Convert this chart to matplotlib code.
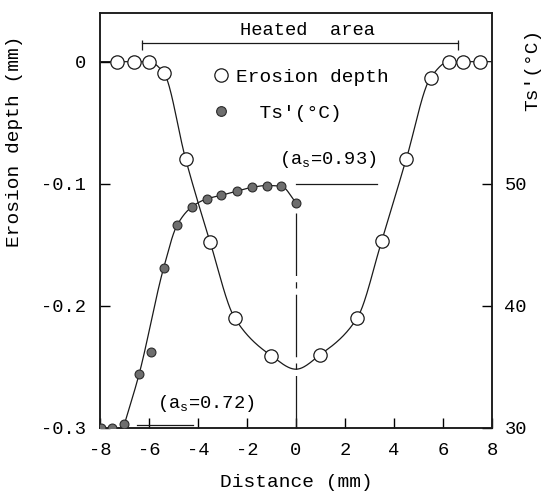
import numpy as np
import matplotlib
matplotlib.use("Agg")
import matplotlib.pyplot as plt
from matplotlib.lines import Line2D

plt.rcParams['font.family'] = ['Liberation Mono', 'DejaVu Sans Mono']
plt.rcParams['mathtext.default'] = 'regular'
plt.rcParams['axes.unicode_minus'] = False

# erosion depth profile (mm) across the specimen
depth_x = [-7.3, -6.6, -6.0, -5.4, -4.5, -3.5, -2.5, -1.0, 1.0, 2.5, 3.5, 4.5, 5.5, 6.25, 6.8, 7.5]
depth_y = [0, 0, 0, -0.009, -0.080, -0.148, -0.210, -0.241, -0.240, -0.210, -0.147, -0.080, -0.013, 0, 0, 0]

# faired curve through the profile (deepest point at the centre)
depth_curve_x = [-8.0, -7.3, -6.6, -6.0, -5.4, -4.5, -3.5, -2.5, -1.0, 0.0, 1.0, 2.5, 3.5, 4.5, 5.5, 6.25, 6.8, 7.5, 8.0]
depth_curve_y = [0, 0, 0, 0, -0.009, -0.080, -0.148, -0.210, -0.241, -0.252, -0.240, -0.210, -0.147, -0.080, -0.013, 0, 0, 0, 0]

# surface temperature Ts' (deg C)
temp_x = [-7.95, -7.5, -7.0, -6.4, -5.9, -5.4, -4.85, -4.25, -3.65, -3.05, -2.4, -1.8, -1.2, -0.6, 0.0]
temp_y = [30.0, 30.0, 30.3, 34.4, 36.2, 43.1, 46.6, 48.1, 48.75, 49.05, 49.4, 49.7, 49.85, 49.8, 48.45]

temp_curve_x = [-7.0, -6.4, -5.4, -4.85, -4.25, -3.65, -3.05, -2.4, -1.8, -1.2, -0.6, 0.0]
temp_curve_y = [30.3, 34.4, 43.1, 46.6, 48.1, 48.75, 49.05, 49.4, 49.7, 49.85, 49.8, 48.45]

x_ticks = [-8, -6, -4, -2, 0, 2, 4, 6, 8]
x_labels = ['-8', '-6', '-4', '-2', '0', '2', '4', '6', '8']
depth_ticks = [0, -0.1, -0.2, -0.3]
depth_labels = ['0', '-0.1', '-0.2', '-0.3']
temp_ticks = [30, 40, 50]
temp_labels = ['30', '40', '50']

heated_span = [-6.3, 6.6]
heated_level = 0.0153
as93_span = [0.0, 3.3]
as93_level = 50.0
as72_span = [-6.5, -4.2]
as72_level = 30.27
centre_line = [47.6, 30.0]


def pchip(x, y, xs):
    x = np.asarray(x, float)
    y = np.asarray(y, float)
    h = np.diff(x)
    d = np.diff(y) / h
    m = np.zeros_like(y)
    for k in range(1, len(x) - 1):
        if d[k - 1] * d[k] > 0:
            w1 = 2 * h[k] + h[k - 1]
            w2 = h[k] + 2 * h[k - 1]
            m[k] = (w1 + w2) / (w1 / d[k - 1] + w2 / d[k])
    m[0] = d[0]
    m[-1] = d[-1]
    i = np.clip(np.searchsorted(x, xs) - 1, 0, len(h) - 1)
    t = (xs - x[i]) / h[i]
    return ((2 * t**3 - 3 * t**2 + 1) * y[i] + (t**3 - 2 * t**2 + t) * h[i] * m[i]
            + (-2 * t**3 + 3 * t**2) * y[i + 1] + (t**3 - t**2) * h[i] * m[i + 1])


fig = plt.figure(figsize=(5.46, 4.94), dpi=100)
ax = fig.add_axes([0.183, 0.134, 0.718, 0.840])
ax2 = ax.twinx()

ink = '#1a1a1a'
dot_face = '#6e6e6e'

# erosion depth
xs = np.linspace(depth_curve_x[0], depth_curve_x[-1], 600)
ax.plot(xs, pchip(depth_curve_x, depth_curve_y, xs), color=ink, lw=0.9, zorder=2)
ax.plot(depth_x, depth_y, ls='none', marker='o', ms=9.6, mfc='white', mec=ink, mew=0.9, zorder=3)

# surface temperature
xs = np.linspace(temp_curve_x[0], temp_curve_x[-1], 400)
ax2.plot(xs, pchip(temp_curve_x, temp_curve_y, xs), color=ink, lw=0.9, zorder=2)
ax2.plot(temp_x, temp_y, ls='none', marker='o', ms=6.4, mfc=dot_face, mec='#2a2a2a', mew=0.8, zorder=3)

# centre line and absorptance notes
ax2.plot([0, 0], centre_line, color=ink, lw=0.9, dashes=(50, 5, 5, 5))
ax2.plot(as93_span, [as93_level, as93_level], color=ink, lw=0.9)
ax2.plot(as72_span, [as72_level, as72_level], color=ink, lw=0.9)
ax2.text(1.3, 52.0, '(a$_s$=0.93)', fontsize=13.5, ha='center', va='center')
ax2.text(-3.7, 32.0, '(a$_s$=0.72)', fontsize=13.5, ha='center', va='center')

# heated area bracket
ax.plot(heated_span, [heated_level, heated_level], color=ink, lw=0.9)
ax.vlines(heated_span, 0.0098, 0.018, color=ink, lw=0.9)
ax.text(0.48, 0.0255, 'Heated  area', fontsize=13.5, ha='center', va='center')

ax.set_xlim(-8, 8)
ax.set_ylim(-0.3, 0.04)
ax2.set_ylim(30, 64)

ax.set_xticks(x_ticks, x_labels)
ax.set_yticks(depth_ticks, depth_labels)
ax2.set_yticks(temp_ticks, temp_labels)
ax.tick_params(direction='in', length=7, width=1, labelsize=13.5, pad=10, top=False, right=False)
ax2.tick_params(direction='in', length=7, width=1, labelsize=13.5, pad=9)
for a in (ax, ax2):
    for s in a.spines.values():
        s.set_linewidth(1.1)
        s.set_color(ink)

ax.set_xlabel('Distance (mm)', fontsize=14, labelpad=11)
ax.set_ylabel('Erosion depth (mm)', fontsize=14, va='center')
ax.yaxis.set_label_coords(-0.219, 0.69)
ax2.set_ylabel("Ts'(°C)", fontsize=14, va='center', rotation=90)
ax2.yaxis.set_label_coords(1.105, 0.863)

handles = [
    Line2D([], [], ls='none', marker='o', ms=9.6, mfc='white', mec=ink, mew=0.9),
    Line2D([], [], ls='none', marker='o', ms=7, mfc=dot_face, mec='#2a2a2a', mew=0.8),
]
ax2.legend(handles, ['Erosion depth', "  Ts'(°C)"], loc='upper left', bbox_to_anchor=(0.288, 0.867),
           frameon=False, fontsize=14, handlelength=0.8, handletextpad=0.4, labelspacing=0.95,
           borderpad=0, borderaxespad=0)

fig.savefig('out.png', dpi=100)
